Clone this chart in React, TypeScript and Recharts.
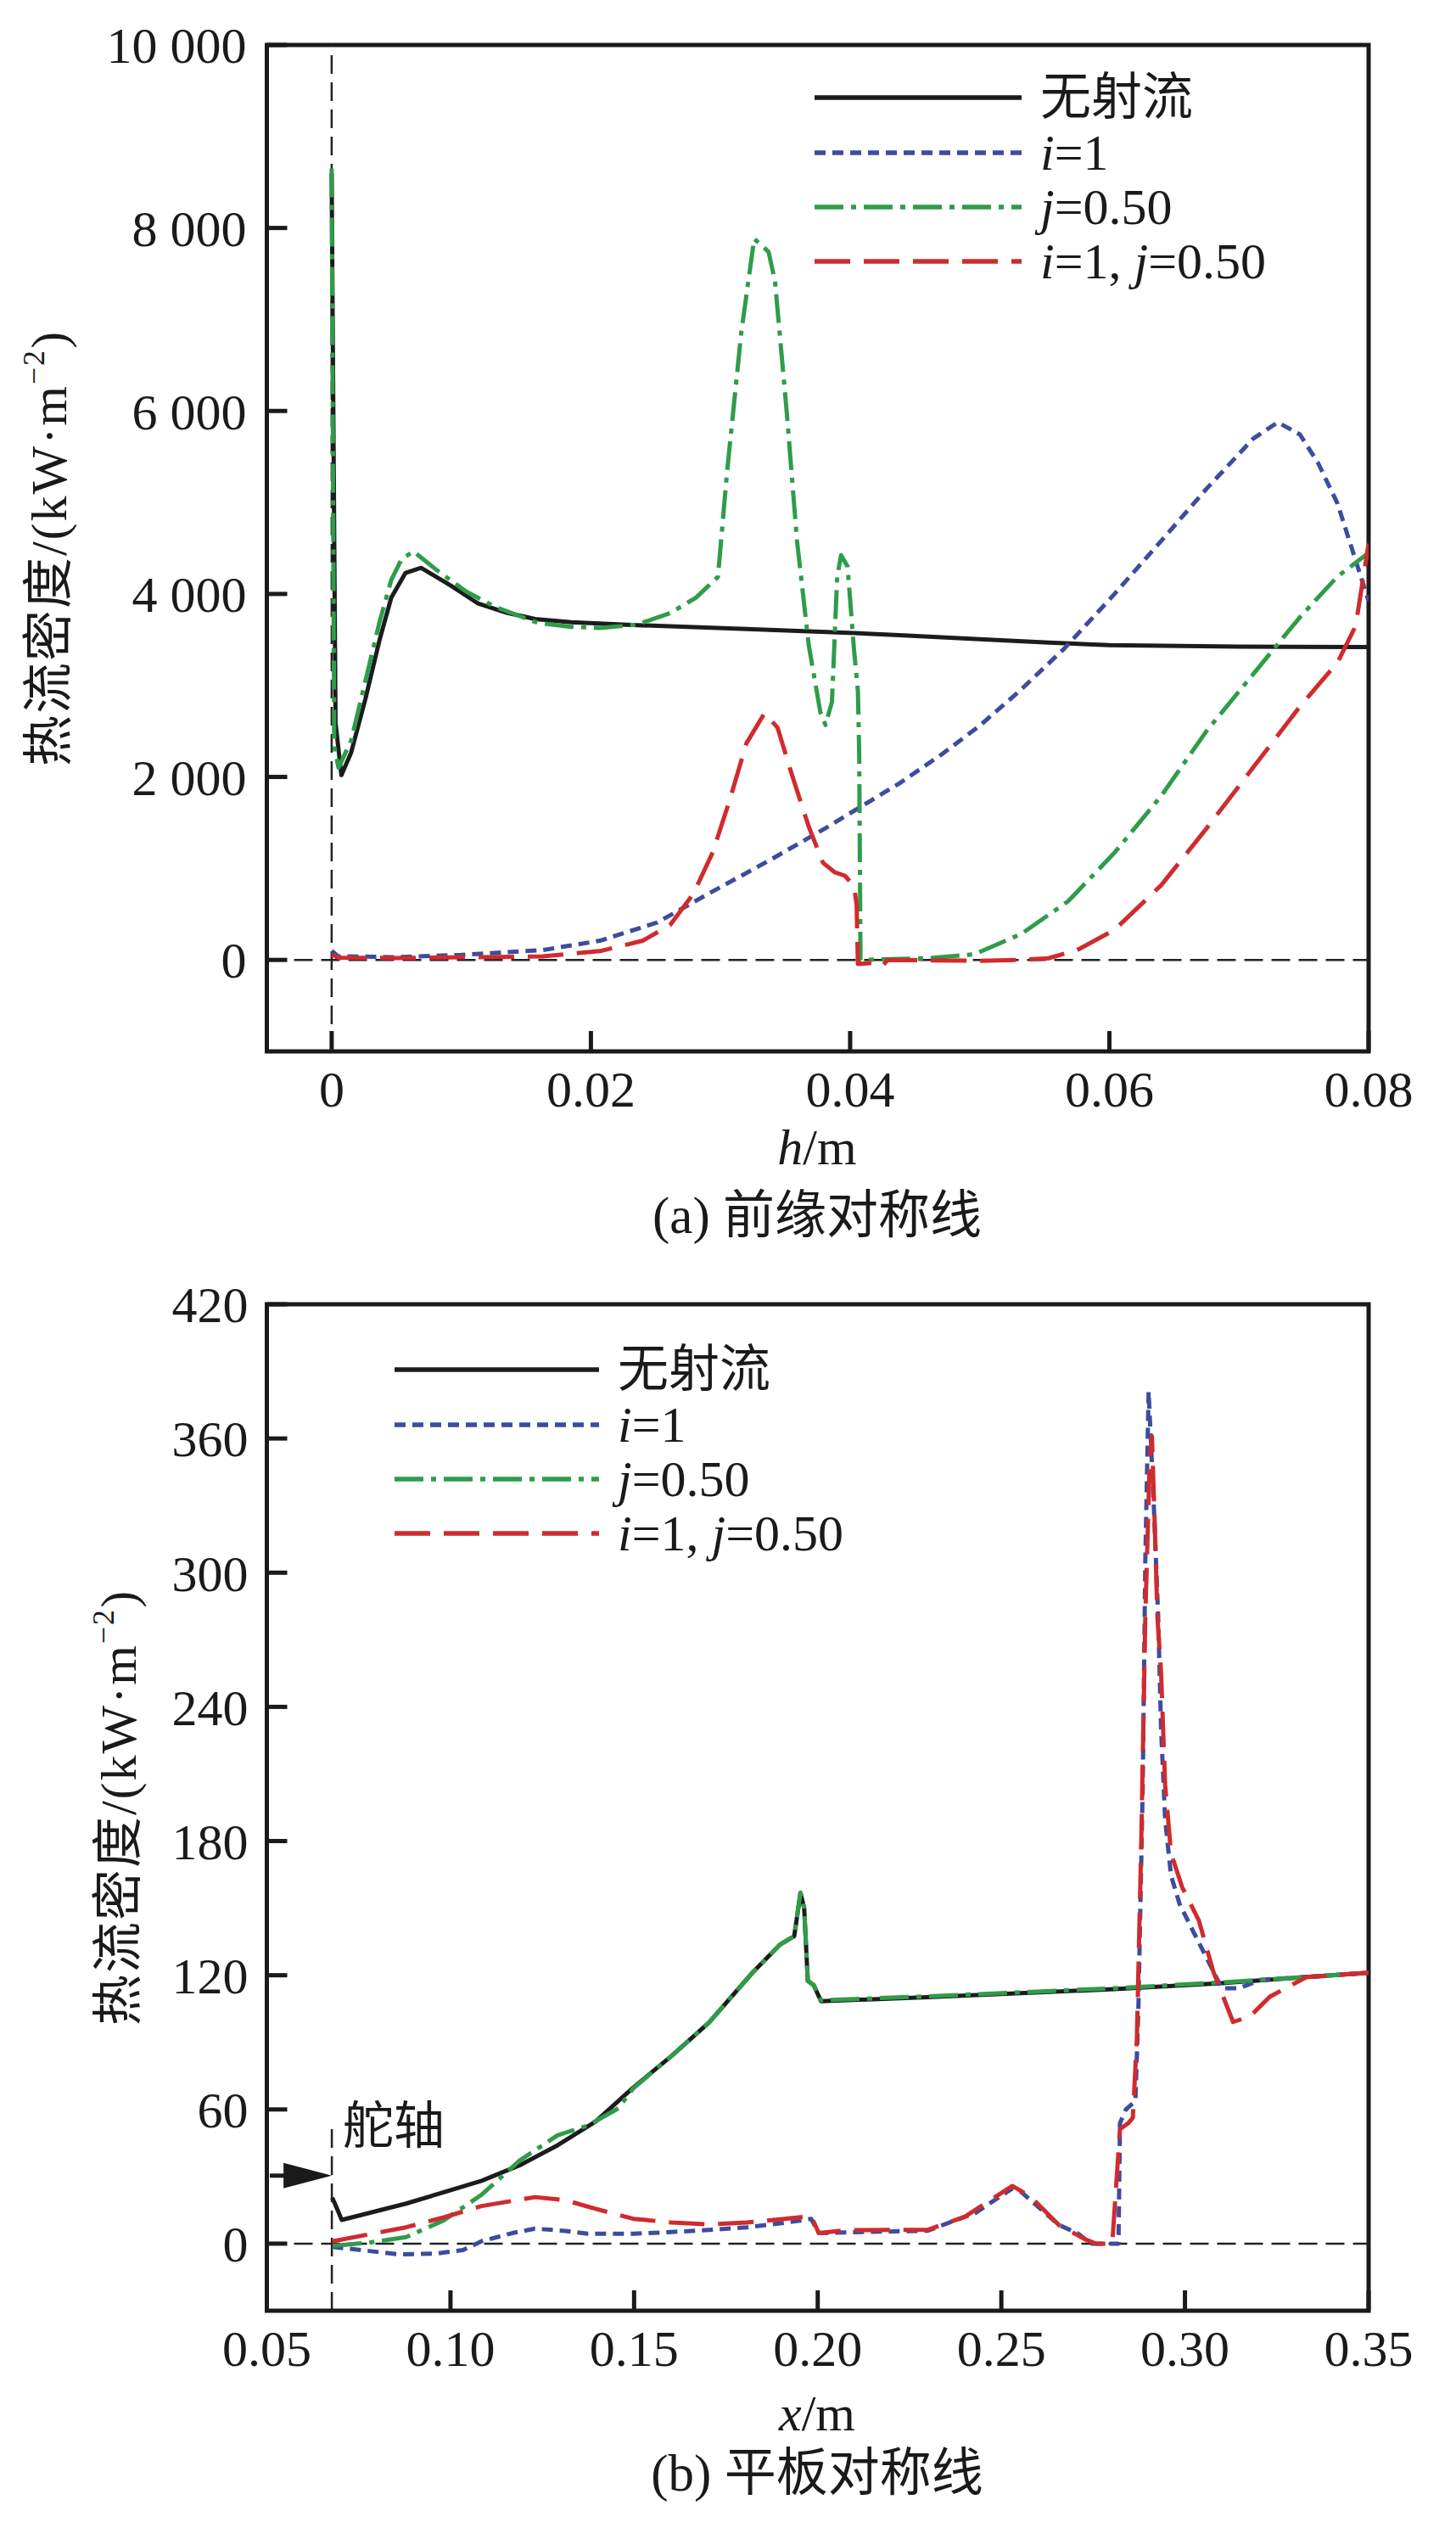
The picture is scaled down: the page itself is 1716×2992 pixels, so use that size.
import React from "react";
import {
  LineChart,
  Line,
  XAxis,
  YAxis,
  Legend,
  ReferenceLine,
  ReferenceArea,
} from "recharts";

// (a) leading-edge symmetry line
const hNoJet = [0, 0.0003, 0.00075, 0.0015, 0.0026, 0.0037, 0.0046, 0.0057, 0.0069, 0.0092, 0.0113, 0.0135, 0.0157, 0.0185, 0.0228, 0.0316, 0.0403, 0.0438, 0.05, 0.055, 0.06, 0.07, 0.08];
const qNoJet = [8600, 2590, 2020, 2265, 2850, 3500, 3960, 4230, 4285, 4090, 3895, 3795, 3725, 3690, 3663, 3618, 3572, 3550, 3505, 3470, 3440, 3425, 3420];

const hI = [0, 0.0005, 0.005, 0.01, 0.0163, 0.0207, 0.0251, 0.0294, 0.0338, 0.0381, 0.0438, 0.047, 0.05, 0.053, 0.0565, 0.0604, 0.064, 0.0675, 0.0711, 0.073, 0.0747, 0.0761, 0.0776, 0.079, 0.08];
const qI = [100, 40, 30, 55, 108, 210, 408, 749, 1090, 1440, 1930, 2240, 2560, 2930, 3400, 4000, 4580, 5150, 5698, 5876, 5743, 5432, 4988, 4367, 3923];

const hJ = [0, 0.0002, 0.00053, 0.0015, 0.0026, 0.0037, 0.0046, 0.0054, 0.0063, 0.0082, 0.0104, 0.0126, 0.0159, 0.0185, 0.0207, 0.0235, 0.0261, 0.0281, 0.0298, 0.0305, 0.0316, 0.0326, 0.0337, 0.0342, 0.0351, 0.0359, 0.0368, 0.0377, 0.0381, 0.0386, 0.039, 0.0393, 0.0398, 0.0403, 0.0406, 0.0407, 0.0408, 0.042, 0.046, 0.0496, 0.0532, 0.0568, 0.0604, 0.064, 0.0675, 0.0711, 0.0747, 0.0776, 0.08];
const qJ = [8650, 2330, 2100, 2396, 3046, 3698, 4154, 4380, 4465, 4251, 4024, 3860, 3684, 3640, 3629, 3663, 3789, 3959, 4186, 5323, 6856, 7882, 7741, 7424, 6003, 4584, 3447, 2709, 2567, 2823, 4186, 4424, 4300, 3390, 2937, 2255, 0, 5, 18, 62, 284, 639, 1172, 1793, 2503, 3124, 3746, 4190, 4450];

const hIJ = [0, 0.0005, 0.005, 0.0163, 0.0207, 0.024, 0.0261, 0.0279, 0.0294, 0.0307, 0.032, 0.0334, 0.0344, 0.0355, 0.0368, 0.0379, 0.0388, 0.0396, 0.0403, 0.0405, 0.0406, 0.042, 0.0425, 0.0429, 0.05, 0.0532, 0.0553, 0.0575, 0.0604, 0.064, 0.0675, 0.0711, 0.0747, 0.0776, 0.079, 0.08];
const qIJ = [60, 25, 20, 39, 96, 210, 380, 721, 1176, 1744, 2368, 2697, 2539, 2028, 1460, 1062, 959, 920, 806, 607, -45, -29, -63, 0, -10, 0, 18, 107, 329, 817, 1438, 2104, 2770, 3250, 3650, 4550];

const hTicks = [0, 0.02, 0.04, 0.06, 0.08];
const qTicksTop = [0, 2000, 4000, 6000, 8000, 10000];

// (b) flat-plate symmetry line
const xNoJet = [0.0678, 0.0685, 0.0704, 0.0879, 0.1085, 0.1188, 0.1291, 0.1395, 0.1498, 0.1601, 0.1704, 0.1822, 0.1898, 0.1936, 0.1953, 0.1963, 0.1973, 0.1989, 0.2009, 0.23, 0.2808, 0.31, 0.3331, 0.35];
const yNoJet = [20.5, 18, 10.6, 17.9, 28.1, 35.0, 43.9, 54.6, 69.8, 83.8, 98.9, 121.1, 133.8, 137.5, 156.7, 150.2, 117.5, 115.6, 108.4, 110.2, 113.8, 116.5, 119.2, 121.1];

const xI = [0.0678, 0.0732, 0.0858, 0.0961, 0.1034, 0.1085, 0.1168, 0.123, 0.1313, 0.1374, 0.1498, 0.1601, 0.1704, 0.1807, 0.191, 0.1982, 0.2003, 0.2075, 0.23, 0.243, 0.253, 0.2555, 0.2656, 0.2707, 0.273, 0.2746, 0.2819, 0.2823, 0.2839, 0.2865, 0.2873, 0.2885, 0.2892, 0.2901, 0.2915, 0.2927, 0.2935, 0.2946, 0.2962, 0.2985, 0.3023, 0.3062, 0.31, 0.3147, 0.3208, 0.3331, 0.35];
const yI = [-1.5, -2.4, -4.8, -4.4, -2.9, 1.1, 4.7, 6.7, 5.7, 4.4, 4.4, 5.2, 6.1, 7.3, 9.3, 11.1, 4.7, 5, 5.8, 13.8, 24.7, 23, 8.4, 4.7, 1.8, 0, 0, 53.9, 60, 63.8, 104, 204.8, 305.5, 381, 330.7, 280.3, 230, 189.7, 164.6, 152, 139.4, 126.8, 114.2, 114.2, 118, 119.2, 121.1];

const xJ = [0.068, 0.0776, 0.0879, 0.0982, 0.1085, 0.1188, 0.1291, 0.1374, 0.1457, 0.1498, 0.1601, 0.1704, 0.1822, 0.1898, 0.1936, 0.1953, 0.1963, 0.1973, 0.1989, 0.2009, 0.23, 0.2808, 0.31, 0.3331, 0.35];
const yJ = [-1, 0.4, 2.9, 10.4, 21.9, 37.1, 48.4, 52.8, 60.5, 69.5, 83.8, 98.9, 121.1, 133.8, 137.5, 157, 150.2, 117.5, 115.6, 108.8, 110.6, 114.2, 116.8, 119.2, 121.1];

const xIJ = [0.0678, 0.0776, 0.0879, 0.0982, 0.1085, 0.123, 0.1313, 0.1395, 0.1498, 0.1601, 0.1704, 0.1807, 0.191, 0.1982, 0.2003, 0.2075, 0.23, 0.24, 0.253, 0.258, 0.2656, 0.273, 0.2757, 0.2802, 0.2823, 0.2846, 0.2858, 0.2869, 0.2881, 0.2892, 0.2904, 0.291, 0.2918, 0.2925, 0.2935, 0.2946, 0.2962, 0.2992, 0.3038, 0.3077, 0.3131, 0.3177, 0.3231, 0.3331, 0.35];
const yIJ = [1, 4.1, 7.3, 11.8, 16.8, 20.8, 19.4, 15.6, 11.1, 9.5, 8.6, 9.5, 11.1, 12.3, 4.7, 6, 6.2, 12, 25.8, 21, 8.4, 1.8, 0, 0, 51.2, 53.9, 56.3, 91.5, 179.7, 280.4, 350, 361, 320, 280, 255, 205, 174.6, 159.5, 144.4, 121.7, 99.1, 101.6, 110.4, 119.2, 121.1];

const xTicks = [0.05, 0.1, 0.15, 0.2, 0.25, 0.3, 0.35];
const yTicksBottom = [0, 60, 120, 180, 240, 300, 360, 420];

const rudderX = 0.0677;
const rudderTop = 52;
const arrowY = 30.4;

const SERIF = "'Liberation Serif', 'Times New Roman', 'Noto Sans CJK SC', serif";
const INK = "#1a1a1a";

const zip = (xs: number[], ys: number[]) => xs.map((x, i) => ({ x, y: ys[i] }));

const SERIES = [
  { key: "none", color: "#1c1c1c", dash: undefined as string | undefined, label: <>无射流</> },
  { key: "i", color: "#3d4c9e", dash: "13 8", label: <><i>i</i>=1</> },
  { key: "j", color: "#2f9c4a", dash: "34 9 6 9", label: <><i>j</i>=0.50</> },
  { key: "ij", color: "#d02b2e", dash: "42 16", label: <><i>i</i>=1, <i>j</i>=0.50</> },
];

function LegendBox({ lineLen }: { lineLen: number }) {
  return (
    <div style={{ fontFamily: SERIF, fontSize: 60, color: INK }}>
      {SERIES.map((s) => (
        <div key={s.key} style={{ display: "flex", alignItems: "center", height: 64.4 }}>
          <svg width={lineLen} height={12} style={{ display: "block" }}>
            <line x1={0} y1={6} x2={lineLen} y2={6} stroke={s.color} strokeWidth={5.5} strokeDasharray={s.dash} />
          </svg>
          <span style={{ marginLeft: 22, lineHeight: 1, whiteSpace: "nowrap" }}>{s.label}</span>
        </div>
      ))}
    </div>
  );
}

const ArrowShape = (p: any) => {
  const { x1, y1, x2 } = p;
  return (
    <g>
      <line x1={x1} y1={y1} x2={x2 - 50} y2={y1} stroke={INK} strokeWidth={5} />
      <polygon points={`${x2},${y1} ${x2 - 57},${y1 - 15} ${x2 - 57},${y1 + 15}`} fill={INK} />
    </g>
  );
};

const tickStyle = { fontSize: 60, fontFamily: SERIF, fill: INK };
const tickLine = { stroke: INK, strokeWidth: 5 };

const fmtThousands = (v: number) =>
  v >= 1000 ? `${Math.floor(v / 1000)} ${String(v % 1000).padStart(3, "0")}` : String(v);

function Text({ x, y, size = 60, rotate = false, children }: any) {
  return (
    <div
      style={{
        position: "absolute",
        left: x,
        top: y,
        transform: `translate(-50%, -50%)${rotate ? " rotate(-90deg)" : ""}`,
        fontFamily: SERIF,
        fontSize: size,
        color: INK,
        whiteSpace: "nowrap",
        lineHeight: 1,
        letterSpacing: rotate ? 2 : 0,
      }}
    >
      {children}
    </div>
  );
}

const yLabel = (
  <>
    热流密度/(kW·m<span style={{ fontSize: "0.6em", verticalAlign: "0.7em" }}>−2</span>)
  </>
);

function renderLines(sets: { x: number; y: number }[][]) {
  return SERIES.map((s, i) => (
    <Line
      key={s.key}
      data={sets[i]}
      dataKey="y"
      type="linear"
      stroke={s.color}
      strokeWidth={5}
      strokeDasharray={s.dash}
      strokeLinejoin="round"
      dot={false}
      activeDot={false}
      isAnimationActive={false}
    />
  ));
}

export default function App() {
  const topSets = [zip(hNoJet, qNoJet), zip(hI, qI), zip(hJ, qJ), zip(hIJ, qIJ)];
  const bottomSets = [zip(xNoJet, yNoJet), zip(xI, yI), zip(xJ, yJ), zip(xIJ, yIJ)];

  return (
    <div style={{ position: "absolute", left: 0, top: 0, width: 1716, height: 2992, background: "#fff" }}>
      <div style={{ position: "absolute", left: 0, top: 0 }}>
        <LineChart width={1716} height={1500} margin={{ top: 53, right: 103, bottom: 181, left: 14.5 }}>
          <XAxis
            type="number"
            dataKey="x"
            domain={[-0.005, 0.08]}
            ticks={hTicks}
            interval={0}
            allowDataOverflow
            height={80}
            axisLine={false}
            tickLine={tickLine}
            tickSize={-24}
            tickMargin={46}
            tick={tickStyle}
            tickFormatter={(v: number) => (v === 0 ? "0" : v.toFixed(2))}
          />
          <YAxis
            type="number"
            domain={[-1000, 10000]}
            ticks={qTicksTop}
            interval={0}
            allowDataOverflow
            width={300}
            axisLine={false}
            tickLine={tickLine}
            tickSize={-24}
            tickMargin={48}
            tick={tickStyle}
            tickFormatter={fmtThousands}
          />
          <ReferenceLine y={0} stroke="#222" strokeWidth={2.5} strokeDasharray="22 10" />
          <ReferenceLine x={0} stroke="#222" strokeWidth={2.5} strokeDasharray="22 10" />
          {renderLines(topSets)}
          <ReferenceArea
            x1={-0.005}
            x2={0.08}
            y1={-1000}
            y2={10000}
            fill="none"
            fillOpacity={0}
            stroke={INK}
            strokeWidth={5}
            ifOverflow="visible"
          />
          <Legend
            layout="vertical"
            align="center"
            verticalAlign="middle"
            wrapperStyle={{ left: 960, top: 83, width: "auto" }}
            content={() => <LegendBox lineLen={244} />}
          />
        </LineChart>
      </div>

      <div style={{ position: "absolute", left: 0, top: 1492 }}>
        <LineChart width={1716} height={1500} margin={{ top: 45, right: 103, bottom: 189, left: 14.5 }}>
          <XAxis
            type="number"
            dataKey="x"
            domain={[0.05, 0.35]}
            ticks={xTicks}
            interval={0}
            allowDataOverflow
            height={80}
            axisLine={false}
            tickLine={tickLine}
            tickSize={-24}
            tickMargin={46}
            tick={tickStyle}
            tickFormatter={(v: number) => v.toFixed(2)}
          />
          <YAxis
            type="number"
            domain={[-30, 420]}
            ticks={yTicksBottom}
            interval={0}
            allowDataOverflow
            width={300}
            axisLine={false}
            tickLine={tickLine}
            tickSize={-24}
            tickMargin={46}
            tick={tickStyle}
          />
          <ReferenceLine y={0} stroke="#222" strokeWidth={2.5} strokeDasharray="22 10" />
          <ReferenceLine
            segment={[{ x: rudderX, y: -30 }, { x: rudderX, y: rudderTop }]}
            stroke="#222"
            strokeWidth={2.5}
            strokeDasharray="22 10"
            ifOverflow="visible"
          />
          <ReferenceLine
            segment={[{ x: 0.0508, y: arrowY }, { x: rudderX, y: arrowY }]}
            shape={ArrowShape}
            ifOverflow="visible"
          />
          {renderLines(bottomSets)}
          <ReferenceArea
            x1={0.05}
            x2={0.35}
            y1={-30}
            y2={420}
            fill="none"
            fillOpacity={0}
            stroke={INK}
            strokeWidth={5}
            ifOverflow="visible"
          />
          <Legend
            layout="vertical"
            align="center"
            verticalAlign="middle"
            wrapperStyle={{ left: 465, top: 90, width: "auto" }}
            content={() => <LegendBox lineLen={241} />}
          />
        </LineChart>
      </div>

      <Text x={55} y={646} rotate>{yLabel}</Text>
      <Text x={963} y={1352}><i>h</i>/m</Text>
      <Text x={963} y={1432} size={61}>(a) 前缘对称线</Text>

      <Text x={137} y={2130} rotate>{yLabel}</Text>
      <Text x={464} y={2506}>舵轴</Text>
      <Text x={963} y={2844}><i>x</i>/m</Text>
      <Text x={963} y={2914} size={61}>(b) 平板对称线</Text>
    </div>
  );
}
